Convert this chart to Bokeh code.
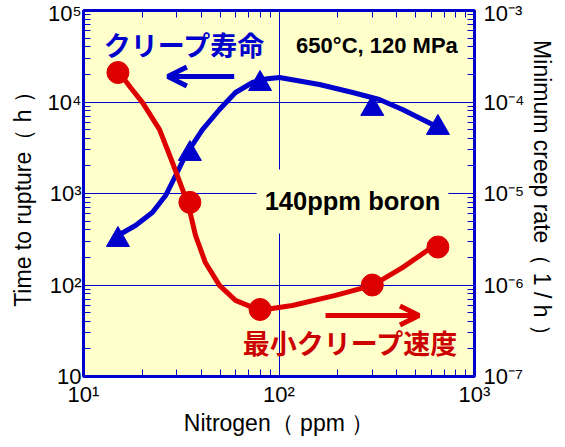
from bokeh.plotting import figure
from bokeh.models import (Range1d, LogScale, LogAxis, FixedTicker, CustomJSTickFormatter,
                          Label, Arrow, OpenHead)
from bokeh.embed import file_html
from bokeh.resources import INLINE

BLUE = "#0000CC"
RED = "#DD0000"
BG = "#FFFFCC"

# ---- data ----
nitrogen_ppm = [15, 35, 80, 300, 650]
rupture_h = [312, 2716, 15800, 8440, 5230]
creep_rate = [2.1e-4, 8.0e-6, 5.4e-7, 1.0e-6, 2.6e-6]

# smooth guide curves
rupture_curve_x = [15.3, 18.45, 22.5, 26.3, 29.6, 33.2, 40.6, 49.6, 59.9, 73.2, 85.0,
                   100.6, 161, 238, 326, 428, 610]
rupture_curve_y = [356, 447, 620, 950, 1573, 2600, 5000, 8280, 12700, 16330, 17800,
                   18530, 15530, 12700, 10640, 8280, 5680]
creep_curve_x = [15.5, 17.4, 20.0, 24.5, 28.5, 32.1, 34.8, 37.4, 42.0, 49.6, 59.9, 73.2,
                 85.0, 117, 194.5, 300.7, 428, 624]
creep_curve_y = [2.0e-4, 1.44e-4, 9.9e-5, 5.0e-5, 2.18e-5, 1.11e-5, 6.7e-6, 3.48e-6,
                 1.76e-6, 9.9e-7, 6.8e-7, 5.7e-7, 5.4e-7, 5.97e-7, 7.7e-7, 9.9e-7,
                 1.55e-6, 2.7e-6]

# ticks
x_ticks = [10, 100, 1000]
x_tick_labels = ["10¹", "10²", "10³"]
left_ticks = [10, 100, 1000, 10000, 100000]
left_tick_labels = ["10", "10²", "10³", "10⁴", "10⁵"]
right_ticks = [1e-7, 1e-6, 1e-5, 1e-4, 1e-3]
right_tick_labels = ["10⁻⁷", "10⁻⁶", "10⁻⁵", "10⁻⁴", "10⁻³"]


def minor_ticks(majors):
    out = []
    for m in majors[:-1]:
        out += [m * k for k in range(2, 10)]
    return out


def label_formatter(ticks, labels):
    return CustomJSTickFormatter(args=dict(t=ticks, l=labels), code="""
        for (let i = 0; i < t.length; i++) {
            if (Math.abs(Math.log10(tick) - Math.log10(t[i])) < 1e-6) return l[i];
        }
        return "";
    """)


p = figure(frame_width=391, frame_height=366, x_axis_type="log", y_axis_type="log",
           x_range=Range1d(10, 1000), y_range=Range1d(10, 1e5),
           output_backend="svg", toolbar_location=None,
           min_border_left=83, min_border_right=20, min_border_top=10, min_border_bottom=40,
           background_fill_color=BG, border_fill_color="white")
p.extra_y_ranges = {"rate": Range1d(1e-7, 1e-3)}
p.extra_y_scales = {"rate": LogScale()}

p.outline_line_color = BLUE
p.outline_line_width = 3

TICK_FONT = "Liberation Sans"


def style_axis(ax, show_labels=True):
    ax.axis_line_color = None
    ax.major_tick_in = 12
    ax.major_tick_out = 0
    ax.minor_tick_in = 7
    ax.minor_tick_out = 0
    ax.major_tick_line_color = BLUE
    ax.minor_tick_line_color = BLUE
    ax.major_tick_line_width = 1
    ax.minor_tick_line_width = 1
    ax.major_label_text_font = TICK_FONT
    ax.major_label_text_font_size = "22px" if show_labels else "0px"
    ax.major_label_text_color = "black"
    ax.axis_label_text_font = TICK_FONT
    ax.axis_label_text_font_size = "23px"
    ax.axis_label_text_font_style = "normal"
    ax.axis_label_text_color = "black"


xt = FixedTicker(ticks=x_ticks, minor_ticks=minor_ticks(x_ticks))
lt = FixedTicker(ticks=left_ticks, minor_ticks=minor_ticks(left_ticks))
rt = FixedTicker(ticks=right_ticks, minor_ticks=minor_ticks(right_ticks))

xa = p.xaxis[0]
xa.ticker = xt
xa.formatter = label_formatter(x_ticks, x_tick_labels)
style_axis(xa)
xa.major_label_standoff = 5
xa.axis_label = "Nitrogen（ ppm ）"
xa.axis_label_standoff = 0

ya = p.yaxis[0]
ya.ticker = lt
ya.formatter = label_formatter(left_ticks, left_tick_labels)
style_axis(ya)
ya.major_label_standoff = 2
ya.axis_label = "Time to rupture（ h ）"
ya.axis_label_standoff = 9

ra = LogAxis(y_range_name="rate", ticker=rt,
             formatter=label_formatter(right_ticks, right_tick_labels))
style_axis(ra)
ra.major_label_standoff = 9
ra.axis_label = "Minimum creep rate（ 1 / h ）"
ra.axis_label_standoff = 2
p.add_layout(ra, "right")

ta = LogAxis(ticker=xt, formatter=label_formatter([], []))
style_axis(ta, show_labels=False)
ta.major_label_standoff = 0
p.add_layout(ta, "above")

p.xgrid.ticker = FixedTicker(ticks=x_ticks)
p.ygrid.ticker = FixedTicker(ticks=left_ticks)
for g in (p.xgrid[0], p.ygrid[0]):
    g.grid_line_color = BLUE
    g.grid_line_width = 1
    g.minor_grid_line_color = None

# ---- rupture time (left axis) ----
p.line(rupture_curve_x, rupture_curve_y, line_color=BLUE, line_width=5,
       line_cap="round", line_join="round")
p.scatter(nitrogen_ppm, rupture_h, marker="triangle", size=23,
          fill_color=BLUE, line_color=BLUE)

# ---- creep rate (right axis) ----
p.line(creep_curve_x, creep_curve_y, line_color=RED, line_width=5,
       line_cap="round", line_join="round", y_range_name="rate")
p.scatter(nitrogen_ppm, creep_rate, marker="circle", size=22,
          fill_color=RED, line_color=RED, y_range_name="rate")

# ---- arrows ----
p.add_layout(Arrow(end=OpenHead(size=19, line_width=5, line_color=BLUE),
                   x_start=59, y_start=19000, x_end=27, y_end=19000,
                   line_color=BLUE, line_width=5))
p.add_layout(Arrow(end=OpenHead(size=19, line_width=5, line_color=RED),
                   x_start=173, y_start=4.64e-7, x_end=520, y_end=4.64e-7,
                   line_color=RED, line_width=5, y_range_name="rate"))

# ---- text annotations ----
CJK = "Noto Sans CJK JP"
p.add_layout(Label(x=33.0, y=42470, text="クリープ寿命", text_font=CJK,
                   text_font_style="bold", text_font_size="27px", text_color=BLUE,
                   text_align="center", text_baseline="middle"))
p.add_layout(Label(x=233, y=23.5, text="最小クリープ速度", text_font=CJK,
                   text_font_style="bold", text_font_size="27px", text_color="#CC0000",
                   text_align="center", text_baseline="middle"))
p.add_layout(Label(x=317, y=41400, text="650°C, 120 MPa", text_font="Liberation Sans",
                   text_font_style="bold", text_font_size="22px", text_color="black",
                   text_align="center", text_baseline="alphabetic"))
p.add_layout(Label(x=237.7, y=818, text="140ppm boron", text_font="Liberation Sans",
                   text_font_style="bold", text_font_size="25.5px", text_color="black",
                   text_align="center", text_baseline="alphabetic",
                   background_fill_color=BG, padding=(8, 18)))

open("out.html", "w").write(file_html(p, INLINE))
